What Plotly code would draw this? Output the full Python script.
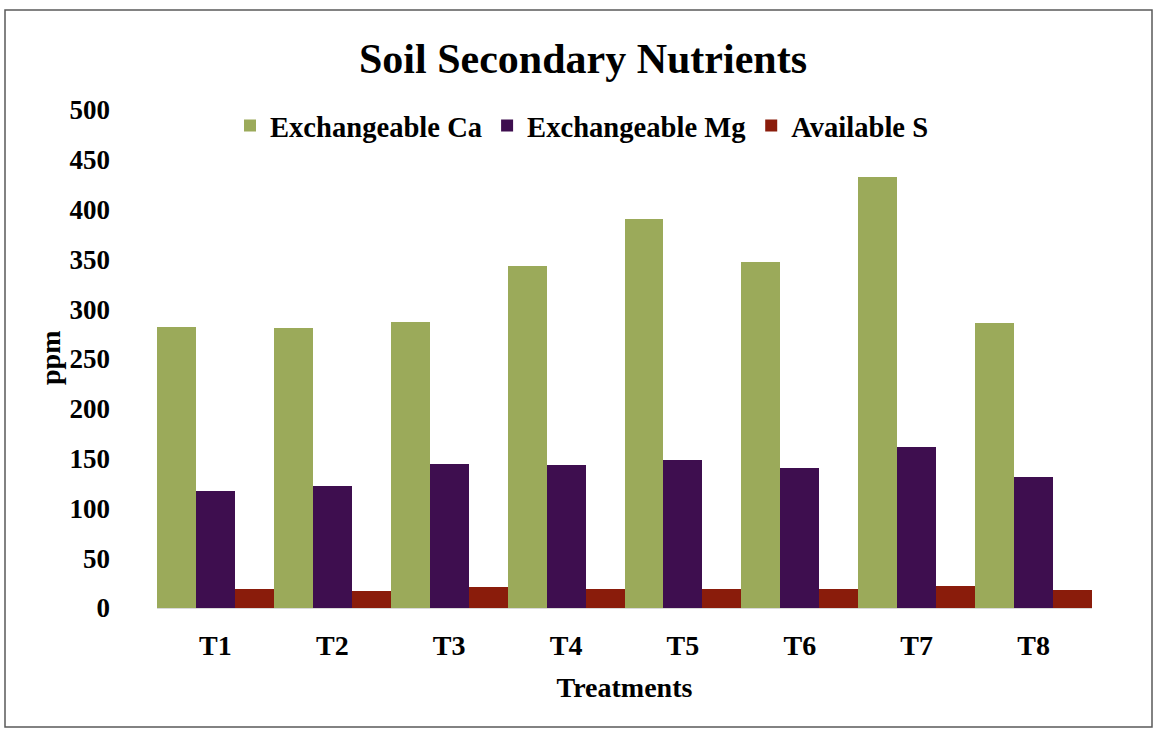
import plotly.graph_objects as go

# Treatment categories and nutrient levels (ppm)
treatments = ["T1", "T2", "T3", "T4", "T5", "T6", "T7", "T8"]
exch_ca = [282, 281, 287, 343, 391, 347, 433, 286]
exch_mg = [117, 122, 145, 144, 149, 141, 162, 132]
avail_s = [19, 17, 21, 19, 19, 19, 22, 18]
y_ticks = list(range(0, 501, 50))

series_names = ["Exchangeable Ca", "Exchangeable Mg", "Available S"]
series_colors = ["#9BAA5A", "#3E0E4F", "#8A1C0B"]

FONT = "Liberation Serif"
TXT = 28

def bold(size):
    return dict(family=FONT, size=size, color="black", weight="bold")

fig = go.Figure()
for name, vals, col in zip(series_names, [exch_ca, exch_mg, avail_s], series_colors):
    fig.add_trace(go.Bar(
        x=treatments, y=vals, name=name,
        marker=dict(color=col, line=dict(width=0)),
    ))

# Plot-area margins in pixels; helpers convert pixel positions to paper coordinates
L, R, T, B = 157, 66, 110, 122
W, H = 1158, 730
pw, ph = W - L - R, H - T - B
def px(x):
    return (x - L) / pw
def py(y):
    return (H - B - y) / ph

# Outer frame around the whole chart
fig.add_shape(type="rect", xref="paper", yref="paper",
              x0=px(5), x1=px(1152), y0=py(727), y1=py(10),
              line=dict(color="#5a5a5a", width=1.5), fillcolor="rgba(0,0,0,0)",
              layer="below")

# Y-axis title placed close to the tick labels
fig.add_annotation(text="ppm", xref="paper", yref="paper", x=px(50), y=py(358),
                   xanchor="center", yanchor="middle", textangle=-90,
                   showarrow=False, font=bold(TXT))

fig.update_layout(
    width=W, height=H,
    margin=dict(l=L, r=R, t=T, b=B),
    paper_bgcolor="white", plot_bgcolor="white",
    barmode="group", bargap=0, bargroupgap=0,
    font=bold(TXT),
    title=dict(text="Soil Secondary Nutrients", x=px(583), xref="paper",
               xanchor="center", y=1 - 58 / H, yanchor="middle",
               font=bold(42)),
    legend=dict(orientation="h", x=px(230), xanchor="left", y=py(126), yanchor="middle",
                font=bold(28.6), itemwidth=30,
                bgcolor="rgba(0,0,0,0)", traceorder="normal"),
    showlegend=True,
)

fig.update_xaxes(
    showgrid=False, zeroline=False, showline=True, linecolor="#d9d9d9", linewidth=1,
    ticks="", tickfont=bold(TXT), ticklabelstandoff=12,
    title=dict(text="Treatments", font=bold(TXT), standoff=17),
)
fig.update_yaxes(
    range=[0, 500], tickvals=y_ticks, showgrid=False, zeroline=False, showline=False,
    ticks="", tickfont=bold(27), ticklabelstandoff=46,
)

fig.write_html("out.html")
